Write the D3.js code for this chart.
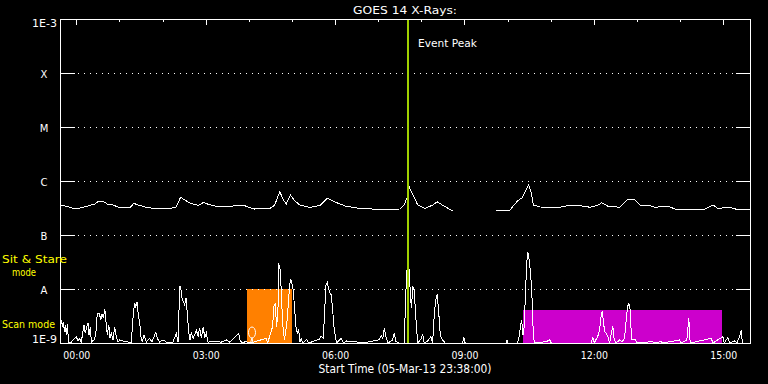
<!DOCTYPE html>
<html>
<head>
<meta charset="utf-8">
<title>GOES 14 X-Rays</title>
<script src="https://cdn.jsdelivr.net/npm/d3@7"></script>
<style>
  html, body { margin: 0; padding: 0; background: #000; }
  #chart svg { display: block; }
  #chart text { font-family: "DejaVu Sans", sans-serif; fill: #fff; }
</style>
</head>
<body>
<div id="chart"></div>
<script>
'use strict';

// long channel (1-8 A), minutes after 00:00 UT 06-Mar-13, flux in W/m^2 (null = gap)
var longTimes = [-22, -15, -6, 5, 16, 26, 30, 37, 44, 51,
  61, 75, 80, 86, 96, 110, 130, 139, 145, 151,
  158, 170, 177, 184, 193, 206, 218, 232, 239, 248,
  269, 276, 283, 288, 292, 298, 304, 311, 325, 339,
  349, 360, 374, 394, 422, 450, 456, 460, 463, 467,
  475, 485, 496, 502, 509, 520, 524, 554, 584, 603,
  607, 613, 617, 620, 624, 629, 632, 636, 645, 673,
  680, 701, 715, 726, 731, 739, 756, 767, 777, 784,
  795, 805, 822, 833, 875, 886, 892, 910, 917, 937];
var longFlux = [3.49e-7, 3.44e-7, 3.16e-7, 3.16e-7, 3.44e-7, 3.75e-7, 4.14e-7, 4.26e-7, 3.67e-7, 3.59e-7,
  3.20e-7, 3.23e-7, 3.86e-7, 3.59e-7, 3.30e-7, 3.07e-7, 3.07e-7, 3.30e-7, 4.99e-7, 4.45e-7,
  3.91e-7, 3.52e-7, 4.03e-7, 3.67e-7, 3.44e-7, 3.30e-7, 3.44e-7, 3.59e-7, 3.30e-7, 3.03e-7,
  3.07e-7, 3.59e-7, 6.34e-7, 4.45e-7, 3.75e-7, 5.50e-7, 4.26e-7, 3.59e-7, 3.23e-7, 3.52e-7,
  4.78e-7, 4.08e-7, 3.44e-7, 3.10e-7, 2.99e-7, 3.03e-7, 3.59e-7, 4.84e-7, 7.84e-7, 6.00e-7,
  3.59e-7, 3.12e-7, 3.59e-7, 4.14e-7, 3.59e-7, 2.97e-7, 2.82e-7, null, 2.82e-7, 2.82e-7,
  3.34e-7, 4.14e-7, 4.64e-7, 4.84e-7, 6.25e-7, 8.43e-7, 6.81e-7, 3.59e-7, 3.30e-7, 3.26e-7,
  3.44e-7, 3.49e-7, 3.26e-7, 3.59e-7, 3.96e-7, 3.44e-7, 3.26e-7, 4.58e-7, 4.45e-7, 3.59e-7,
  3.59e-7, 3.26e-7, 3.44e-7, 3.03e-7, 3.03e-7, 3.59e-7, 3.12e-7, 3.23e-7, 3.03e-7, 3.03e-7];

// short channel (0.5-4 A)
var shortTimes = [-20.8, -19.4, -18.0, -16.7, -15.3, -13.9, -12.5, -10.6, -7.0, 0,
  2.3, 4.7, 6.9, 10.7, 12.5, 14.5, 16.3, 17.7, 19.5, 20.9,
  24.6, 27.0, 29.2, 32.0, 34.0, 35.8, 37.6, 39.6, 41.3, 43.1,
  45.2, 46.9, 48.7, 51.1, 53.4, 55.7, 58.1, 60.3, 65.0, 71.9,
  76.5, 79.3, 81.2, 82.6, 84.4, 86.3, 88.2, 90.0, 91.8, 94.1,
  97.3, 102.1, 105.3, 108.1, 110.5, 112.6, 116.0, 120.6, 125.2, 134.5,
  139.1, 141.5, 143.9, 145.3, 147.1, 148.9, 150.7, 152.6, 154.4, 156.3,
  158.1, 160.0, 162.4, 164.7, 167.0, 169.4, 171.6, 173.9, 176.7, 178.6,
  180.9, 183.2, 192.5, 201.7, 208.6, 213.3, 225.9, 227.7, 230.5, 235.1,
  242.9, 263.8, 266.2, 273.0, 274.8, 276.7, 278.6, 280.4, 281.8, 283.2,
  284.6, 286.0, 287.8, 289.7, 291.5, 293.3, 295.3, 297.1, 298.5, 299.9,
  301.7, 303.7, 305.5, 307.3, 309.3, 311.1, 312.9, 314.9, 320.5, 323.3,
  337.9, 340.7, 343.6, 345.6, 347.3, 349.1, 351.0, 352.9, 354.7, 356.6,
  358.5, 360.3, 362.2, 368.6, 371.4, 376.1, 391.8, 398.3, 420.7, 424.3,
  426.3, 428.4, 430.8, 433.6, 440.0, 442.3, 444.7, 449.2, 456.1, 458.5,
  460.8, 463.1, 465.0, 466.4, 467.8, 469.6, 471.5, 473.4, 475.2, 479.9,
  481.7, 484.0, 488.6, 493.2, 495.6, 498.4, 500.2, 502.0, 504.0, 505.8,
  507.6, 509.6, 513.2, 537.5, 539.1, 540.9, 598.3, 599.1, 600.5, 613.0,
  615.4, 617.8, 619.5, 621.3, 622.7, 624.7, 626.5, 628.3, 630.3, 631.7,
  633.1, 634.5, 635.8, 637.6, 653.8, 658.5, 660.8, 716.0, 718.6, 720.5,
  725.6, 727.9, 730.3, 731.7, 733.1, 734.9, 737.2, 739.4, 741.8, 746.4,
  748.3, 751.1, 755.8, 759.4, 762.7, 765.0, 766.8, 768.7, 770.6, 772.4,
  775.2, 777.9, 779.7, 802.0, 804.4, 813.7, 815.9, 839.2, 841.0, 849.4,
  852.1, 854.0, 883.3, 885.5, 899.4, 901.4, 906.4, 908.8, 915.7, 918.9,
  922.7, 925.1, 926.5, 936.6];
var shortFlux = [2.67e-9, 2.00e-9, 2.48e-9, 1.62e-9, 2.15e-9, 1.41e-9, 2.22e-9, 1.00e-9, 1.04e-9, 1.31e-9,
  1.09e-9, 1.22e-9, 1.04e-9, 2.15e-9, 1.51e-9, 2.00e-9, 2.32e-9, 1.41e-9, 2.00e-9, 1.04e-9,
  1.14e-9, 1.41e-9, 3.55e-9, 3.55e-9, 2.67e-9, 3.40e-9, 2.87e-9, 4.26e-9, 2.48e-9, 1.41e-9,
  2.15e-9, 1.22e-9, 1.51e-9, 1.14e-9, 2.00e-9, 1.31e-9, 1.04e-9, 1.14e-9, 1.09e-9, 1.04e-9,
  1.04e-9, 3.55e-9, 5.43e-9, 4.70e-9, 5.82e-9, 3.30e-9, 2.32e-9, 1.31e-9, 1.04e-9, 1.41e-9,
  1.04e-9, 1.22e-9, 1.04e-9, 1.31e-9, 1.58e-9, 1.22e-9, 1.04e-9, 1.14e-9, 1.04e-9, 1.04e-9,
  1.51e-9, 1.04e-9, 11.4e-9, 10.3e-9, 6.73e-9, 5.82e-9, 5.06e-9, 6.73e-9, 3.55e-9, 1.62e-9,
  1.14e-9, 1.58e-9, 1.22e-9, 1.41e-9, 1.74e-9, 1.31e-9, 1.92e-9, 1.22e-9, 2.00e-9, 1.22e-9,
  1.51e-9, 1.04e-9, 1.06e-9, 1.04e-9, 1.14e-9, 1.04e-9, 1.51e-9, 1.14e-9, 1.00e-9, 1.06e-9,
  1.00e-9, 1.22e-9, 1.00e-9, 2.00e-9, 4.70e-9, 5.43e-9, 2.00e-9, 3.55e-9, 27.8e-9, 25.9e-9,
  12.8e-9, 4.70e-9, 1.74e-9, 1.14e-9, 1.74e-9, 2.67e-9, 6.25e-9, 12.8e-9, 15.1e-9, 12.8e-9,
  9.58e-9, 4.39e-9, 2.00e-9, 1.51e-9, 1.74e-9, 1.06e-9, 1.22e-9, 1.00e-9, 1.17e-9, 1.00e-9,
  1.17e-9, 1.35e-9, 1.22e-9, 4.08e-9, 11.9e-9, 13.3e-9, 10.3e-9, 8.32e-9, 7.74e-9, 4.08e-9,
  2.00e-9, 1.31e-9, 1.00e-9, 1.22e-9, 1.00e-9, 1.09e-9, 1.04e-9, 1.00e-9, 1.14e-9, 1.35e-9,
  1.22e-9, 1.87e-9, 1.31e-9, 1.00e-9, 1.14e-9, 1.55e-9, 1.06e-9, 1.00e-9, 1.00e-9, 8.91e-9,
  35.5e-9, 22.5e-9, 6.73e-9, 4.39e-9, 11.0e-9, 10.3e-9, 4.70e-9, 1.74e-9, 1.00e-9, 1.22e-9,
  1.47e-9, 1.00e-9, 1.09e-9, 1.31e-9, 1.00e-9, 4.08e-9, 6.25e-9, 7.98e-9, 4.08e-9, 1.74e-9,
  1.22e-9, 1.14e-9, 1.00e-9, 1.00e-9, 1.27e-9, 1.00e-9, 1.00e-9, 1.14e-9, 1.00e-9, 1.00e-9,
  1.17e-9, 2.00e-9, 2.67e-9, 1.41e-9, 1.74e-9, 7.20e-9, 29.9e-9, 47.9e-9, 32.1e-9, 20.9e-9,
  11.9e-9, 4.70e-9, 1.31e-9, 1.00e-9, 1.06e-9, 1.14e-9, 1.00e-9, 1.00e-9, 1.25e-9, 1.00e-9,
  1.35e-9, 1.74e-9, 3.30e-9, 3.91e-9, 2.67e-9, 1.62e-9, 1.51e-9, 1.31e-9, 1.00e-9, 2.06e-9,
  1.14e-9, 1.00e-9, 1.14e-9, 1.06e-9, 1.22e-9, 2.67e-9, 4.70e-9, 5.43e-9, 4.08e-9, 1.14e-9,
  1.14e-9, 1.14e-9, 1.00e-9, 1.06e-9, 1.00e-9, 1.06e-9, 1.00e-9, 1.14e-9, 1.00e-9, 1.14e-9,
  2.87e-9, 1.00e-9, 1.22e-9, 1.00e-9, 1.31e-9, 1.00e-9, 1.27e-9, 1.00e-9, 1.09e-9, 1.00e-9,
  1.31e-9, 1.74e-9, 1.00e-9, 1.00e-9];

// flux levels on the y axis
var levelValues = [1e-9, 1e-8, 1e-7, 1e-6, 1e-5, 1e-4, 1e-3];
var levelLabels = ['1E-9', 'A', 'B', 'C', 'M', 'X', '1E-3'];

// observing modes (UT on 06-Mar-13)
var modeNames = ['Sit & Stare', 'Scan'];
var modeStart = ['03:57', '10:21'];
var modeEnd = ['05:00', '14:58'];
var modeTop = [1e-8, 4.1e-9];

var eventPeak = '07:41';
var axisStartMin = -22.7, axisEndMin = 937.2;
var titleText = 'GOES 14 X-Rays:';
var xTitle = 'Start Time (05-Mar-13 23:38:00)';

var minutesToDate = function (m) {
  return new Date(Date.UTC(2013, 2, 6) + m * 60000);
};
var clockToDate = function (s) {
  var p = s.split(':');
  return minutesToDate(+p[0] * 60 + +p[1]);
};

var drawChart = function () {
  var width = 768, height = 384;
  var margin = { top: 19, right: 18, bottom: 41, left: 60 };
  var plotW = width - margin.left - margin.right,
      plotH = height - margin.top - margin.bottom;
  var left = margin.left, right = margin.left + plotW,
      top = margin.top, bottom = margin.top + plotH;

  var x = d3.scaleUtc()
    .domain([minutesToDate(axisStartMin), minutesToDate(axisEndMin)])
    .range([left, right]);
  var y = d3.scaleLog().domain([1e-9, 1e-3]).range([bottom, top]);

  var svg = d3.select('#chart').append('svg')
    .attr('width', width).attr('height', height)
    .style('background', '#000');

  svg.append('defs').append('clipPath').attr('id', 'plot-clip')
    .append('rect').attr('x', left).attr('y', top)
    .attr('width', plotW + 1).attr('height', plotH + 1);

  // mode boxes
  var modeColor = ['#ff8000', '#cc00cc'];
  svg.append('g').selectAll('rect').data(modeNames).enter().append('rect')
    .attr('x', function (d, i) { return x(clockToDate(modeStart[i])); })
    .attr('width', function (d, i) { return x(clockToDate(modeEnd[i])) - x(clockToDate(modeStart[i])); })
    .attr('y', function (d, i) { return y(modeTop[i]); })
    .attr('height', function (d, i) { return y(1e-9) - y(modeTop[i]); })
    .style('fill', function (d, i) { return modeColor[i]; })
    .attr('shape-rendering', 'crispEdges');

  // little marker inside the sit & stare box
  var qx = Math.round(x(clockToDate(modeStart[0]))) + 5;
  var glyph = svg.append('g').style('fill', 'none').style('stroke', '#fff').style('stroke-width', 1);
  glyph.append('ellipse').attr('cx', qx).attr('cy', y(1e-9) - 10.5).attr('rx', 3.5).attr('ry', 5.5);
  glyph.append('path').attr('d', 'M' + (qx - 1.5) + ',' + (y(1e-9)) + 'L' + qx + ',' + (y(1e-9) - 5) + 'L' + (qx + 1) + ',' + y(1e-9));

  // dotted level lines and inner ticks
  var inner = levelValues.slice(1, -1);
  var grid = svg.append('g').attr('shape-rendering', 'crispEdges').style('stroke', '#fff');
  grid.selectAll('line.dot').data(inner).enter().append('line').attr('class', 'dot')
    .attr('x1', left + 18).attr('x2', right - 14)
    .attr('y1', function (d) { return Math.round(y(d)) + 0.5; })
    .attr('y2', function (d) { return Math.round(y(d)) + 0.5; })
    .style('stroke-dasharray', '1,5');

  var lAxis = d3.axisLeft(y).tickValues(inner).tickSize(-15).tickFormat('');
  var lGuide = svg.append('g').attr('transform', 'translate(' + left + ',0)');
  lAxis(lGuide);
  var rAxis = d3.axisRight(y).tickValues(inner).tickSize(-14).tickFormat('');
  var rGuide = svg.append('g').attr('transform', 'translate(' + right + ',0)');
  rAxis(rGuide);

  // hour ticks along the top edge
  var hMinor = d3.axisBottom(x).ticks(d3.utcHour.every(1)).tickSize(3).tickFormat('');
  var hMinorG = svg.append('g').attr('transform', 'translate(0,' + top + ')');
  hMinor(hMinorG);
  var hMajor = d3.axisBottom(x).ticks(d3.utcHour.every(3)).tickSize(6).tickFormat('');
  var hMajorG = svg.append('g').attr('transform', 'translate(0,' + top + ')');
  hMajor(hMajorG);

  // hour labels below
  var hLabels = d3.axisBottom(x).ticks(d3.utcHour.every(3)).tickSize(0).tickPadding(9)
    .tickFormat(d3.utcFormat('%H:%M'));
  var hLabelG = svg.append('g').attr('transform', 'translate(0,' + bottom + ')');
  hLabels(hLabelG);

  svg.selectAll('.domain').remove();
  svg.selectAll('.tick line').style('stroke', '#fff').attr('shape-rendering', 'crispEdges');
  hLabelG.selectAll('text')
    .style('font-family', '"DejaVu Sans", sans-serif').style('font-size', '10px').style('fill', '#fff')
    .attr('textLength', 27).attr('lengthAdjust', 'spacingAndGlyphs');

  // data lines
  var lineGen = d3.line()
    .defined(function (d) { return d[1] !== null; })
    .x(function (d) { return x(minutesToDate(d[0])); })
    .y(function (d) { return y(d[1]); });

  var longData = longTimes.map(function (t, i) { return [t, longFlux[i]]; });
  var shortData = shortTimes.map(function (t, i) { return [t, shortFlux[i]]; });

  var curves = svg.append('g').attr('clip-path', 'url(#plot-clip)')
    .style('fill', 'none').style('stroke', '#fff').style('stroke-width', 1)
    .attr('shape-rendering', 'crispEdges');
  curves.append('path').attr('d', lineGen(longData));
  curves.append('path').attr('d', lineGen(shortData));

  // event peak marker
  var ex = Math.round(x(clockToDate(eventPeak)));
  svg.append('line')
    .attr('x1', ex).attr('x2', ex).attr('y1', top).attr('y2', bottom)
    .style('stroke', '#a0d000').style('stroke-width', 2)
    .attr('shape-rendering', 'crispEdges');
  svg.append('text').attr('x', ex + 10).attr('y', 47)
    .attr('textLength', 59).attr('lengthAdjust', 'spacingAndGlyphs')
    .style('font-size', '11px').text('Event Peak');

  // frame
  svg.append('rect')
    .attr('x', left + 0.5).attr('y', top + 0.5).attr('width', plotW).attr('height', plotH)
    .style('fill', 'none').style('stroke', '#fff').attr('shape-rendering', 'crispEdges');

  // y labels
  svg.append('g').selectAll('text').data(levelValues).enter().append('text')
    .attr('x', function (d, i) { return (i === 0 || i === levelValues.length - 1) ? 57 : 44; })
    .attr('y', function (d, i) {
      if (i === 0) return y(d);
      if (i === levelValues.length - 1) return y(d) + 8;
      return y(d) + 5;
    })
    .attr('text-anchor', function (d, i) { return (i === 0 || i === levelValues.length - 1) ? 'end' : 'middle'; })
    .attr('textLength', function (d, i) { return (i === 0 || i === levelValues.length - 1) ? 25 : null; })
    .attr('lengthAdjust', 'spacingAndGlyphs')
    .style('font-size', '10px')
    .text(function (d, i) { return levelLabels[i]; });

  // mode labels
  var modeLabels = svg.append('g');
  modeLabels.append('text').attr('x', 2).attr('y', 263)
    .attr('textLength', 65).attr('lengthAdjust', 'spacingAndGlyphs')
    .style('font-size', '11px').style('fill', '#ffff00').text(modeNames[0]);
  modeLabels.append('text').attr('x', 24).attr('y', 276).attr('text-anchor', 'middle')
    .attr('textLength', 24).attr('lengthAdjust', 'spacingAndGlyphs')
    .style('font-size', '11px').style('fill', '#ffff00').text('mode');
  modeLabels.append('text').attr('x', 2).attr('y', 327.5)
    .attr('textLength', 53).attr('lengthAdjust', 'spacingAndGlyphs')
    .style('font-size', '11px').style('fill', '#ffff00').text(modeNames[1] + ' mode');

  // titles
  var cx = (left + right) / 2;
  svg.append('text').attr('x', cx).attr('y', 14).attr('text-anchor', 'middle')
    .attr('textLength', 104).attr('lengthAdjust', 'spacingAndGlyphs')
    .style('font-size', '11px').text(titleText);
  svg.append('text').attr('x', cx).attr('y', 372.5).attr('text-anchor', 'middle')
    .attr('textLength', 173).attr('lengthAdjust', 'spacingAndGlyphs')
    .style('font-size', '12px').text(xTitle);
};

drawChart();
</script>
</body>
</html>
